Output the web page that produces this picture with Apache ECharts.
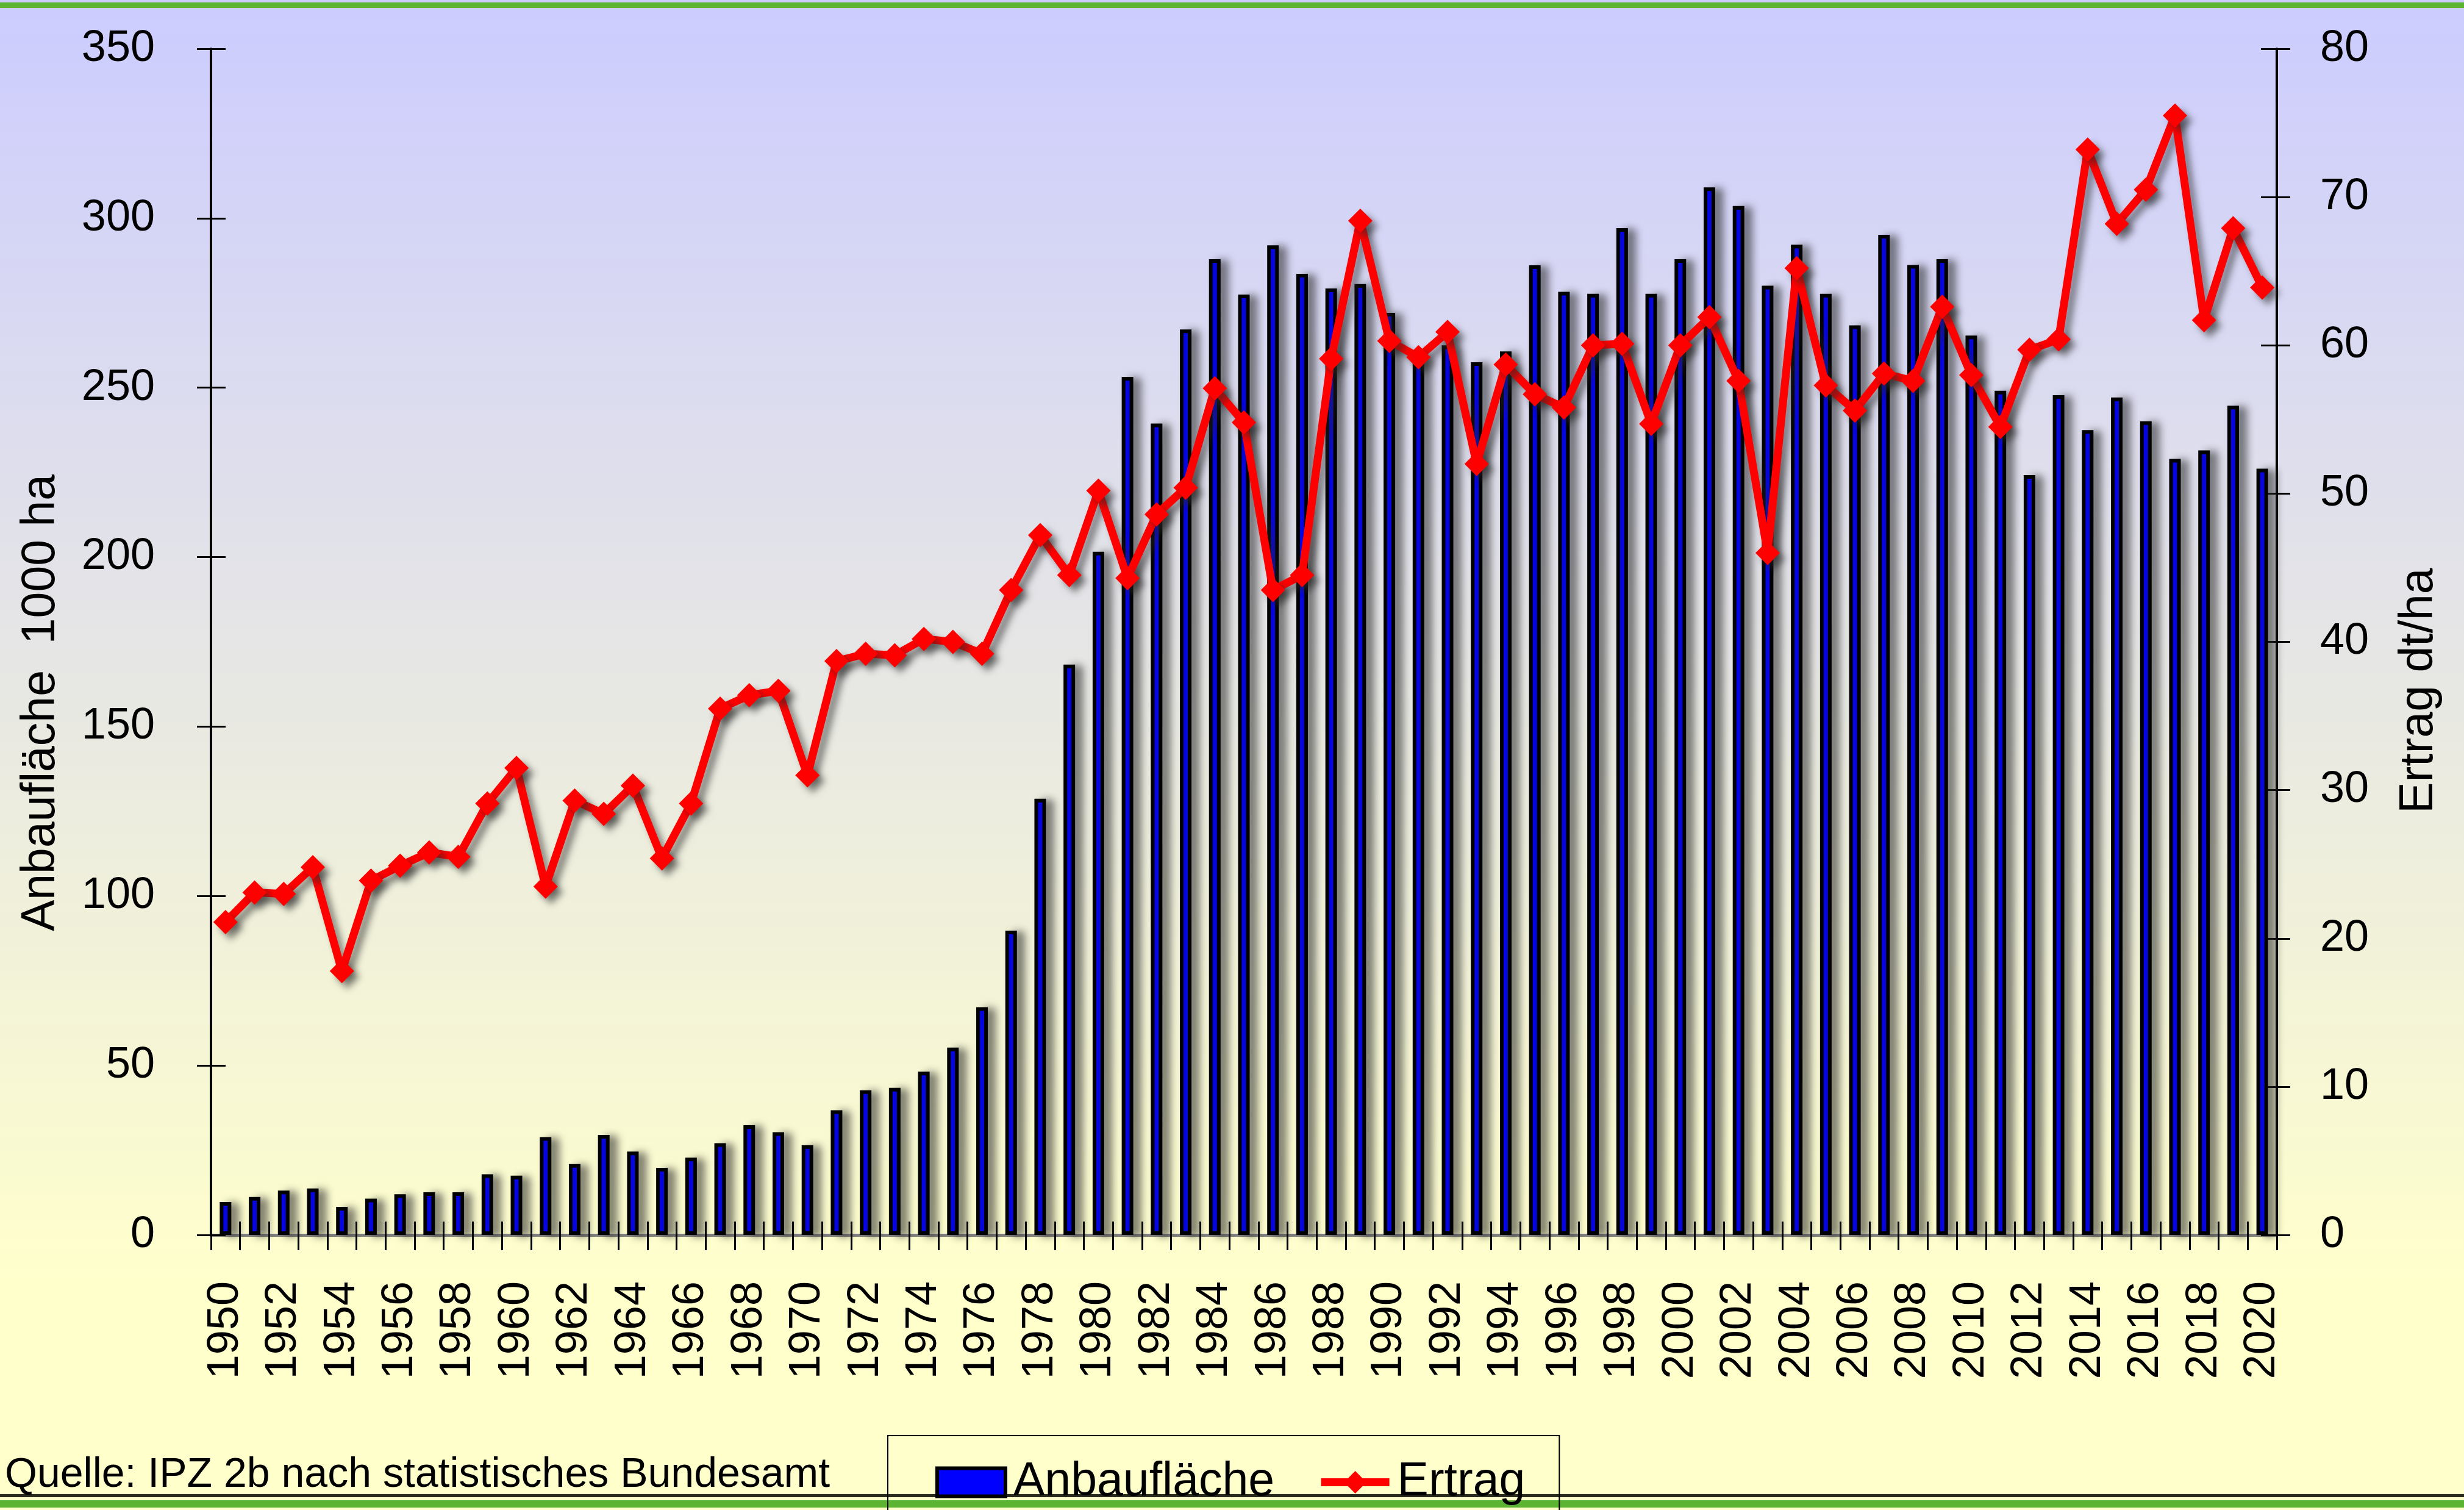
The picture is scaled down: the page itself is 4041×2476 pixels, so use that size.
<!DOCTYPE html>
<html>
<head>
<meta charset="utf-8">
<title>Anbaufläche und Ertrag</title>
<script src="https://cdn.jsdelivr.net/npm/echarts@6/dist/echarts.min.js"></script>
<style>
  html, body { margin: 0; padding: 0; }
  #chart { width: 4041px; height: 2476px; }
</style>
</head>
<body>
<div id="chart"></div>
<script>
// Jahre (Kategorien)
const years = [
  '1950','1951','1952','1953','1954','1955','1956','1957','1958','1959',
  '1960','1961','1962','1963','1964','1965','1966','1967','1968','1969',
  '1970','1971','1972','1973','1974','1975','1976','1977','1978','1979',
  '1980','1981','1982','1983','1984','1985','1986','1987','1988','1989',
  '1990','1991','1992','1993','1994','1995','1996','1997','1998','1999',
  '2000','2001','2002','2003','2004','2005','2006','2007','2008','2009',
  '2010','2011','2012','2013','2014','2015','2016','2017','2018','2019',
  '2020'
];

// Anbaufläche in 1000 ha
const anbauflaeche = [
  9.7, 11.2, 13.1, 13.7, 8.3, 10.7, 12.0, 12.6, 12.6, 17.9,
  17.5, 28.9, 20.9, 29.5, 24.6, 19.8, 22.8, 27.1, 32.4, 30.3,
  26.5, 36.8, 42.7, 43.4, 48.2, 55.3, 67.2, 89.8, 128.7, 168.3,
  201.6, 253.2, 239.4, 267.2, 287.9, 277.5, 292.0, 283.6, 279.3, 280.6,
  272.1, 258.0, 262.5, 257.5, 260.7, 286.1, 278.3, 277.7, 297.1, 277.7,
  287.9, 309.1, 303.6, 280.1, 292.2, 277.7, 268.4, 295.1, 286.2, 287.9,
  265.4, 249.1, 224.2, 247.8, 237.5, 247.1, 240.1, 229.0, 231.5, 244.7,
  226.1
];

// Ertrag in dt/ha
const ertrag = [
  21.1, 23.1, 23.0, 24.8, 17.8, 23.9, 24.9, 25.8, 25.5, 29.1,
  31.5, 23.5, 29.3, 28.4, 30.3, 25.4, 29.1, 35.5, 36.4, 36.7,
  31.0, 38.7, 39.2, 39.1, 40.2, 40.0, 39.2, 43.5, 47.2, 44.5,
  50.2, 44.3, 48.6, 50.4, 57.1, 54.8, 43.5, 44.5, 59.1, 68.4,
  60.3, 59.2, 60.9, 52.0, 58.7, 56.7, 55.8, 60.0, 60.1, 54.7,
  60.0, 61.9, 57.6, 46.0, 65.2, 57.3, 55.6, 58.1, 57.6, 62.6,
  58.0, 54.5, 59.7, 60.4, 73.2, 68.2, 70.5, 75.5, 61.7, 67.9,
  63.9
];

// Achsenteilung
const leftTicks = [0, 50, 100, 150, 200, 250, 300, 350];
const rightTicks = [0, 10, 20, 30, 40, 50, 60, 70, 80];

const font = "'Liberation Sans', Arial, sans-serif";
const shadow = 'rgba(40,40,40,0.55)';
const noShadow = { shadowBlur: 0, shadowOffsetX: 0, shadowOffsetY: 0, shadowColor: 'transparent' };

const chart = echarts.init(document.getElementById('chart'));

const option = {
  animation: false,
  backgroundColor: {
    type: 'linear', x: 0, y: 0, x2: 0, y2: 1,
    colorStops: [
      { offset: 0, color: '#CCCCFF' },
      { offset: 0.85, color: '#FFFFCC' },
      { offset: 1, color: '#FFFFCC' }
    ]
  },
  textStyle: { fontFamily: font, color: '#000' },
  grid: { left: 346, right: 307, top: 80, bottom: 451 },
  legend: {
    left: 1456, top: 2354,
    padding: [38, 56, 60, 78],
    itemGap: 70,
    itemWidth: 112, itemHeight: 46,
    borderColor: '#000', borderWidth: 2,
    textStyle: { fontSize: 77, fontFamily: font, color: '#000', padding: [0, 0, 0, 8] },
    data: [
      {
        name: 'Anbaufläche', icon: 'rect',
        itemStyle: Object.assign({ color: '#0000FF', borderColor: '#000', borderWidth: 6 }, noShadow)
      },
      {
        name: 'Ertrag',
        itemStyle: Object.assign({ color: '#FF0000', borderWidth: 0 }, noShadow),
        lineStyle: Object.assign({ color: '#FF0000', width: 13 }, noShadow)
      }
    ]
  },
  xAxis: [
    {
      type: 'category', data: years, position: 'bottom',
      axisLine: { lineStyle: { color: '#000', width: 4 } },
      axisTick: { show: true, interval: 0, length: 25, lineStyle: { color: '#000', width: 3 } },
      axisLabel: { interval: 1, rotate: 90, margin: 76, fontSize: 72, color: '#000', fontFamily: font },
      splitLine: { show: false }
    },
    {
      type: 'category', data: years, position: 'bottom',
      axisLine: { show: false },
      axisTick: { show: true, inside: true, interval: 0, length: 22, lineStyle: { color: '#000', width: 3 } },
      axisLabel: { show: false },
      splitLine: { show: false }
    },
    {
      type: 'category', data: years, position: 'top',
      axisLine: { show: true, lineStyle: { color: '#808080', width: 5 } },
      axisTick: { show: false },
      axisLabel: { show: false },
      splitLine: { show: false }
    }
  ],
  yAxis: [
    {
      type: 'value', position: 'left',
      min: leftTicks[0], max: leftTicks[leftTicks.length - 1], interval: leftTicks[1] - leftTicks[0],
      name: 'Anbaufläche  1000 ha', nameLocation: 'middle', nameRotate: 90, nameGap: 240,
      nameTextStyle: { fontSize: 77, color: '#000', fontFamily: font, padding: [0, 200, 0, 0] },
      axisLine: { show: true, lineStyle: { color: '#000', width: 4 } },
      axisTick: { show: true, length: 23, lineStyle: { color: '#000', width: 3 } },
      axisLabel: { margin: 92, fontSize: 72, color: '#000', fontFamily: font },
      splitLine: { show: false }
    },
    {
      type: 'value', position: 'right',
      min: rightTicks[0], max: rightTicks[rightTicks.length - 1], interval: rightTicks[1] - rightTicks[0],
      name: 'Ertrag dt/ha', nameLocation: 'middle', nameRotate: 90, nameGap: 195,
      nameTextStyle: { fontSize: 77, color: '#000', fontFamily: font, padding: [0, 160, 0, 0] },
      axisLine: { show: true, lineStyle: { color: '#000', width: 4 } },
      axisTick: { show: true, length: 22, lineStyle: { color: '#000', width: 3 } },
      axisLabel: { margin: 71, fontSize: 72, color: '#000', fontFamily: font },
      splitLine: { show: false }
    },
    {
      type: 'value', position: 'left',
      min: leftTicks[0], max: leftTicks[leftTicks.length - 1], interval: leftTicks[1] - leftTicks[0],
      axisLine: { show: false },
      axisTick: { show: true, inside: true, length: 24, lineStyle: { color: '#000', width: 3 } },
      axisLabel: { show: false },
      splitLine: { show: false }
    },
    {
      type: 'value', position: 'right',
      min: rightTicks[0], max: rightTicks[rightTicks.length - 1], interval: rightTicks[1] - rightTicks[0],
      axisLine: { show: false },
      axisTick: { show: true, inside: true, length: 26, lineStyle: { color: '#000', width: 3 } },
      axisLabel: { show: false },
      splitLine: { show: false }
    }
  ],
  graphic: [
    { type: 'rect', left: 0, top: 4, shape: { width: 4041, height: 9 }, style: { fill: '#5DB332' }, silent: true },
    { type: 'rect', left: 0, top: 2450, shape: { width: 4041, height: 5 }, style: { fill: '#2a2a20' }, silent: true },
    { type: 'rect', left: 0, top: 2460, shape: { width: 4041, height: 12 }, style: { fill: '#5DB332' }, silent: true },
    {
      type: 'text', left: 8, top: 2385, silent: true,
      style: { text: 'Quelle: IPZ 2b nach statistisches Bundesamt', font: '68px ' + font, fill: '#000' }
    }
  ],
  series: [
    {
      name: 'Anbaufläche', type: 'bar',
      xAxisIndex: 0, yAxisIndex: 0,
      barWidth: 19,
      data: anbauflaeche,
      itemStyle: {
        color: '#0000FF', borderColor: '#000', borderWidth: 6,
        shadowColor: shadow, shadowBlur: 14, shadowOffsetX: 12, shadowOffsetY: 2
      }
    },
    {
      name: 'Ertrag', type: 'line',
      xAxisIndex: 0, yAxisIndex: 1,
      data: ertrag,
      symbol: 'diamond', symbolSize: 40,
      showAllSymbol: true,
      lineStyle: {
        color: '#FF0000', width: 13,
        shadowColor: shadow, shadowBlur: 12, shadowOffsetX: 9, shadowOffsetY: 9
      },
      itemStyle: {
        color: '#FF0000', borderWidth: 0,
        shadowColor: shadow, shadowBlur: 12, shadowOffsetX: 9, shadowOffsetY: 9
      },
      z: 5
    }
  ]
};

chart.setOption(option);
</script>
</body>
</html>
